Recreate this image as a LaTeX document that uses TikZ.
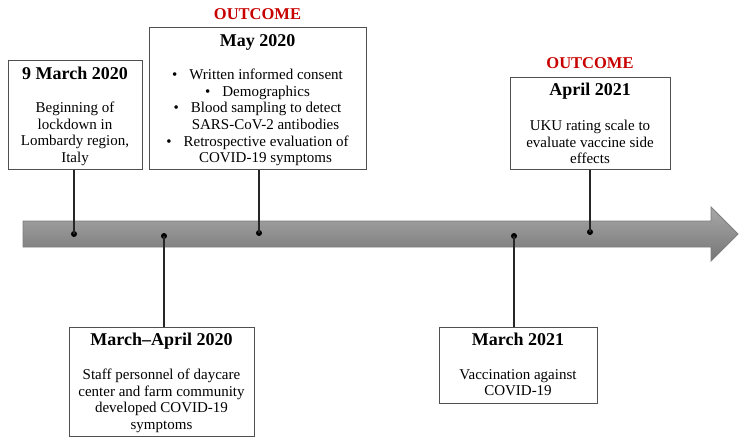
\documentclass[tikz,border=0pt]{standalone}
\usepackage{fontspec}
\setmainfont{Liberation Serif}
\definecolor{outred}{RGB}{200,0,0}
\definecolor{arrtop}{RGB}{168,168,168}
\definecolor{arrbot}{RGB}{118,118,118}
\definecolor{arredge}{RGB}{125,125,125}
\definecolor{boxedge}{RGB}{80,80,80}
\tikzset{
  evbox/.style={draw=boxedge, line width=0.9pt, fill=white, minimum width=#1, inner sep=0pt, anchor=north west},
  ttl/.style={font=\fontsize{18}{20}\selectfont\bfseries, inner sep=0pt, anchor=base},
  body/.style={font=\fontsize{15}{16.6}\selectfont, align=center, inner sep=0pt, anchor=north},
  outc/.style={font=\fontsize{16.5}{18}\selectfont\bfseries, text=outred, inner sep=0pt, anchor=base},
  dot/.style={circle, fill=black, inner sep=0pt, minimum size=6pt},
  conn/.style={line width=1.3pt, black!85}
}
\begin{document}
\begin{tikzpicture}[x=1pt, y=-1pt]
\useasboundingbox (0,0) rectangle (744,445);

% timeline arrow
\path[top color=arrtop, bottom color=arrbot, draw=arredge, line width=0.8pt]
  (23,221) -- (711,221) -- (711,207) -- (738,234) -- (711,261) -- (711,247) -- (23,247) -- cycle;

% boxes
\node[evbox=134pt, minimum height=109pt] (A) at (8,60) {};
\node[evbox=217pt, minimum height=142pt] (B) at (149,27) {};
\node[evbox=185pt, minimum height=109pt] (C) at (69,327) {};
\node[evbox=158pt, minimum height=76pt] (D) at (439,327) {};
\node[evbox=160pt, minimum height=92pt] (E) at (510,77) {};

% dots
\node[dot] (dA) at (74,234) {};
\node[dot] (dC) at (164,236) {};
\node[dot] (dB) at (259,233) {};
\node[dot] (dD) at (514,236) {};
\node[dot] (dE) at (590,232) {};

% connectors
\draw[conn] (A.south -| dA) -- (dA.center);
\draw[conn] (B.south -| dB) -- (dB.center);
\draw[conn] (dC.center) -- (C.north -| dC);
\draw[conn] (dD.center) -- (D.north -| dD);
\draw[conn] (E.south -| dE) -- (dE.center);

% outcome labels
\node[outc] (o1) at (257.5,19) {OUTCOME};
\node[outc] (o2) at (590,68) {OUTCOME};

% titles
\node[ttl] (tA) at (75,79) {9 March 2020};
\node[ttl] (tB) at (257.5,46) {May 2020};
\node[ttl] (tC) at (161.5,345) {March–April 2020};
\node[ttl] (tD) at (518,345) {March 2021};
\node[ttl] (tE) at (590,95) {April 2021};

% bodies
\node[body] (bA) at (75,102) {Beginning of\\lockdown in\\Lombardy region,\\Italy};
\node[body] (bB) at (257.5,69) {•\hspace{12pt}Written informed consent\\
  •\hspace{12pt}Demographics\\
  •\hspace{12pt}Blood sampling to detect\\
  \hspace*{16pt}SARS-CoV-2 antibodies\\
  •\hspace{12pt}Retrospective evaluation of\\
  \hspace*{16pt}COVID-19 symptoms};
\node[body] (bC) at (161.5,369) {Staff personnel of daycare\\center and farm community\\developed COVID-19\\symptoms};
\node[body] (bD) at (518,369) {Vaccination against\\COVID-19};
\node[body] (bE) at (590,120) {UKU rating scale to\\evaluate vaccine side\\effects};
\end{tikzpicture}
\end{document}
